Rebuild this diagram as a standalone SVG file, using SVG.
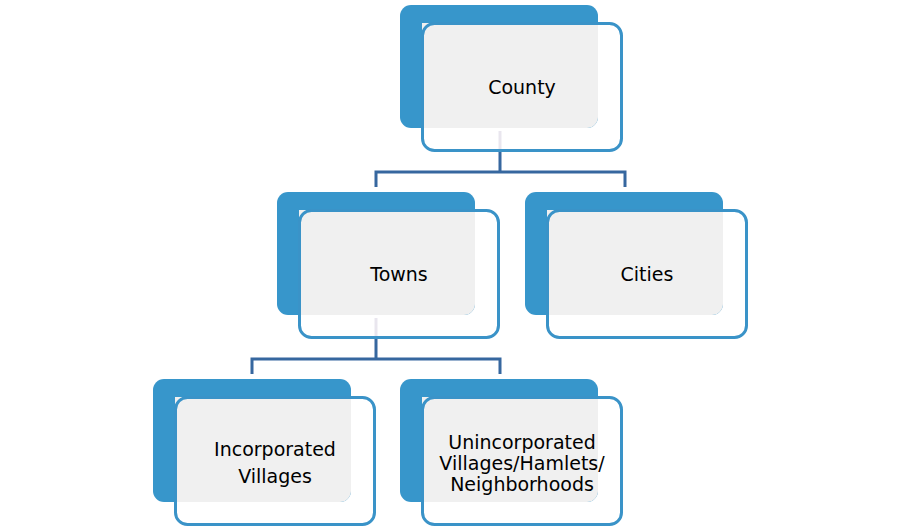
<svg xmlns="http://www.w3.org/2000/svg" width="898" height="528" viewBox="0 0 898 528">
<defs>
<style>
.back{fill:#3796cb}
.gray{fill:#f0f0f0}
.front{fill:none;stroke:#3a93c8;stroke-width:3}
.conn{fill:none;stroke:#36679f;stroke-width:3}
.faint{fill:none;stroke:#e9e6ee;stroke-width:3}
text{font-family:"DejaVu Sans","Verdana",sans-serif;font-size:19px;fill:#000;text-anchor:middle}
</style>
<g id="shape">
<rect class="back" x="0" y="0" width="198" height="123" rx="11"/>
<path class="gray" d="M22,18 H198 V112 A11,11 0 0 1 187,123 H22 Z"/>
<rect class="front" x="22.5" y="18.5" width="199" height="127" rx="12"/>
</g>
</defs>
<rect width="898" height="528" fill="#ffffff"/>
<g id="connectors">
<path class="faint" d="M500,131 V150"/>
<path class="conn" d="M500,152 V172 M376,187 V172 H625 V187"/>
<path class="faint" d="M376,318 V337"/>
<path class="conn" d="M376,339 V359 M252,374 V359 H500 V374"/>
</g>
<g id="county">
<use href="#shape" x="400" y="5"/>
<text x="522" y="94">County</text>
</g>
<g id="towns">
<use href="#shape" x="277" y="192"/>
<text x="399" y="281">Towns</text>
</g>
<g id="cities">
<use href="#shape" x="525" y="192"/>
<text x="647" y="281">Cities</text>
</g>
<g id="incorporated-villages">
<use href="#shape" x="153" y="379"/>
<text x="275" y="456">Incorporated</text>
<text x="275" y="483">Villages</text>
</g>
<g id="unincorporated">
<use href="#shape" x="400" y="379"/>
<text x="522" y="449">Unincorporated</text>
<text x="522" y="470">Villages/Hamlets/</text>
<text x="522" y="491">Neighborhoods</text>
</g>
</svg>
